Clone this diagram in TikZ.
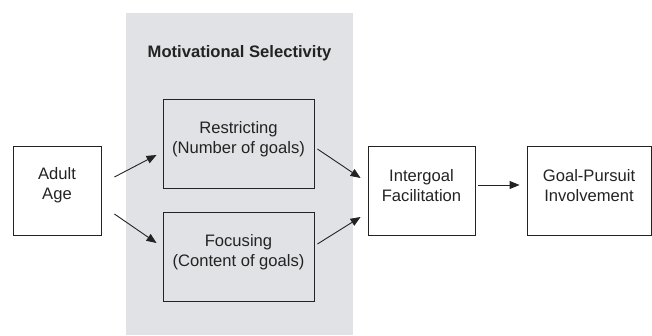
\documentclass[tikz,border=0pt]{standalone}
\usepackage{fontspec}
\setmainfont{Liberation Sans}
\usetikzlibrary{arrows.meta}
\definecolor{panelgray}{RGB}{225,226,229}
\definecolor{inkgray}{RGB}{35,35,35}
\tikzset{
  box/.style={draw=inkgray, line width=0.9pt, minimum width=#1, minimum height=89pt, inner sep=0pt},
  box/.default=88pt,
  label text/.style={align=center, text=inkgray, font=\fontsize{16.6}{20}\selectfont},
  arr/.style={draw=inkgray, line width=0.9pt, -{Triangle[length=10pt,width=8pt]}}
}
\begin{document}
\begin{tikzpicture}[x=1pt,y=-1pt]
  \useasboundingbox (0,0) rectangle (652,335);
  \fill[panelgray] (126,13) rectangle (353,335);
  \node[label text, font=\fontsize{16.6}{20}\selectfont\bfseries] (title) at (239.5,53) {Motivational Selectivity};
  % boxes
  \node[box] (age) at (57,190.5) {};
  \node[box=151pt] (restr) at (238.5,144) {};
  \node[box=151pt] (focus) at (238.5,257) {};
  \node[box=107pt] (inter) at (421.5,190.5) {};
  \node[box=124pt] (goal) at (589,190.5) {};
  \node[label text] (agetext) at ([yshift=5pt]age) {Adult\\Age};
  \node[label text] (restrtext) at ([yshift=5pt]restr) {Restricting\\(Number of goals)};
  \node[label text] (focustext) at ([yshift=5pt]focus) {Focusing\\(Content of goals)};
  \node[label text] (intertext) at ([yshift=5pt]inter) {Intergoal\\Facilitation};
  \node[label text] (goaltext) at ([yshift=5pt]goal) {Goal-Pursuit\\Involvement};
  % arrows
  \draw[arr] ([shift={(13,-13.5)}]age.east) -- ([shift={(-6,11)}]restr.west);
  \draw[arr] ([shift={(13,23.5)}]age.east) -- ([shift={(-6,-14)}]focus.west);
  \draw[arr] ([shift={(3,5)}]restr.east) -- ([shift={(-7,-12.5)}]inter.west);
  \draw[arr] ([shift={(3,-13)}]focus.east) -- ([shift={(-7,26.5)}]inter.west);
  \draw[arr] ([shift={(3,-5.5)}]inter.east) -- ([shift={(-7,-5.5)}]goal.west);
\end{tikzpicture}
\end{document}
